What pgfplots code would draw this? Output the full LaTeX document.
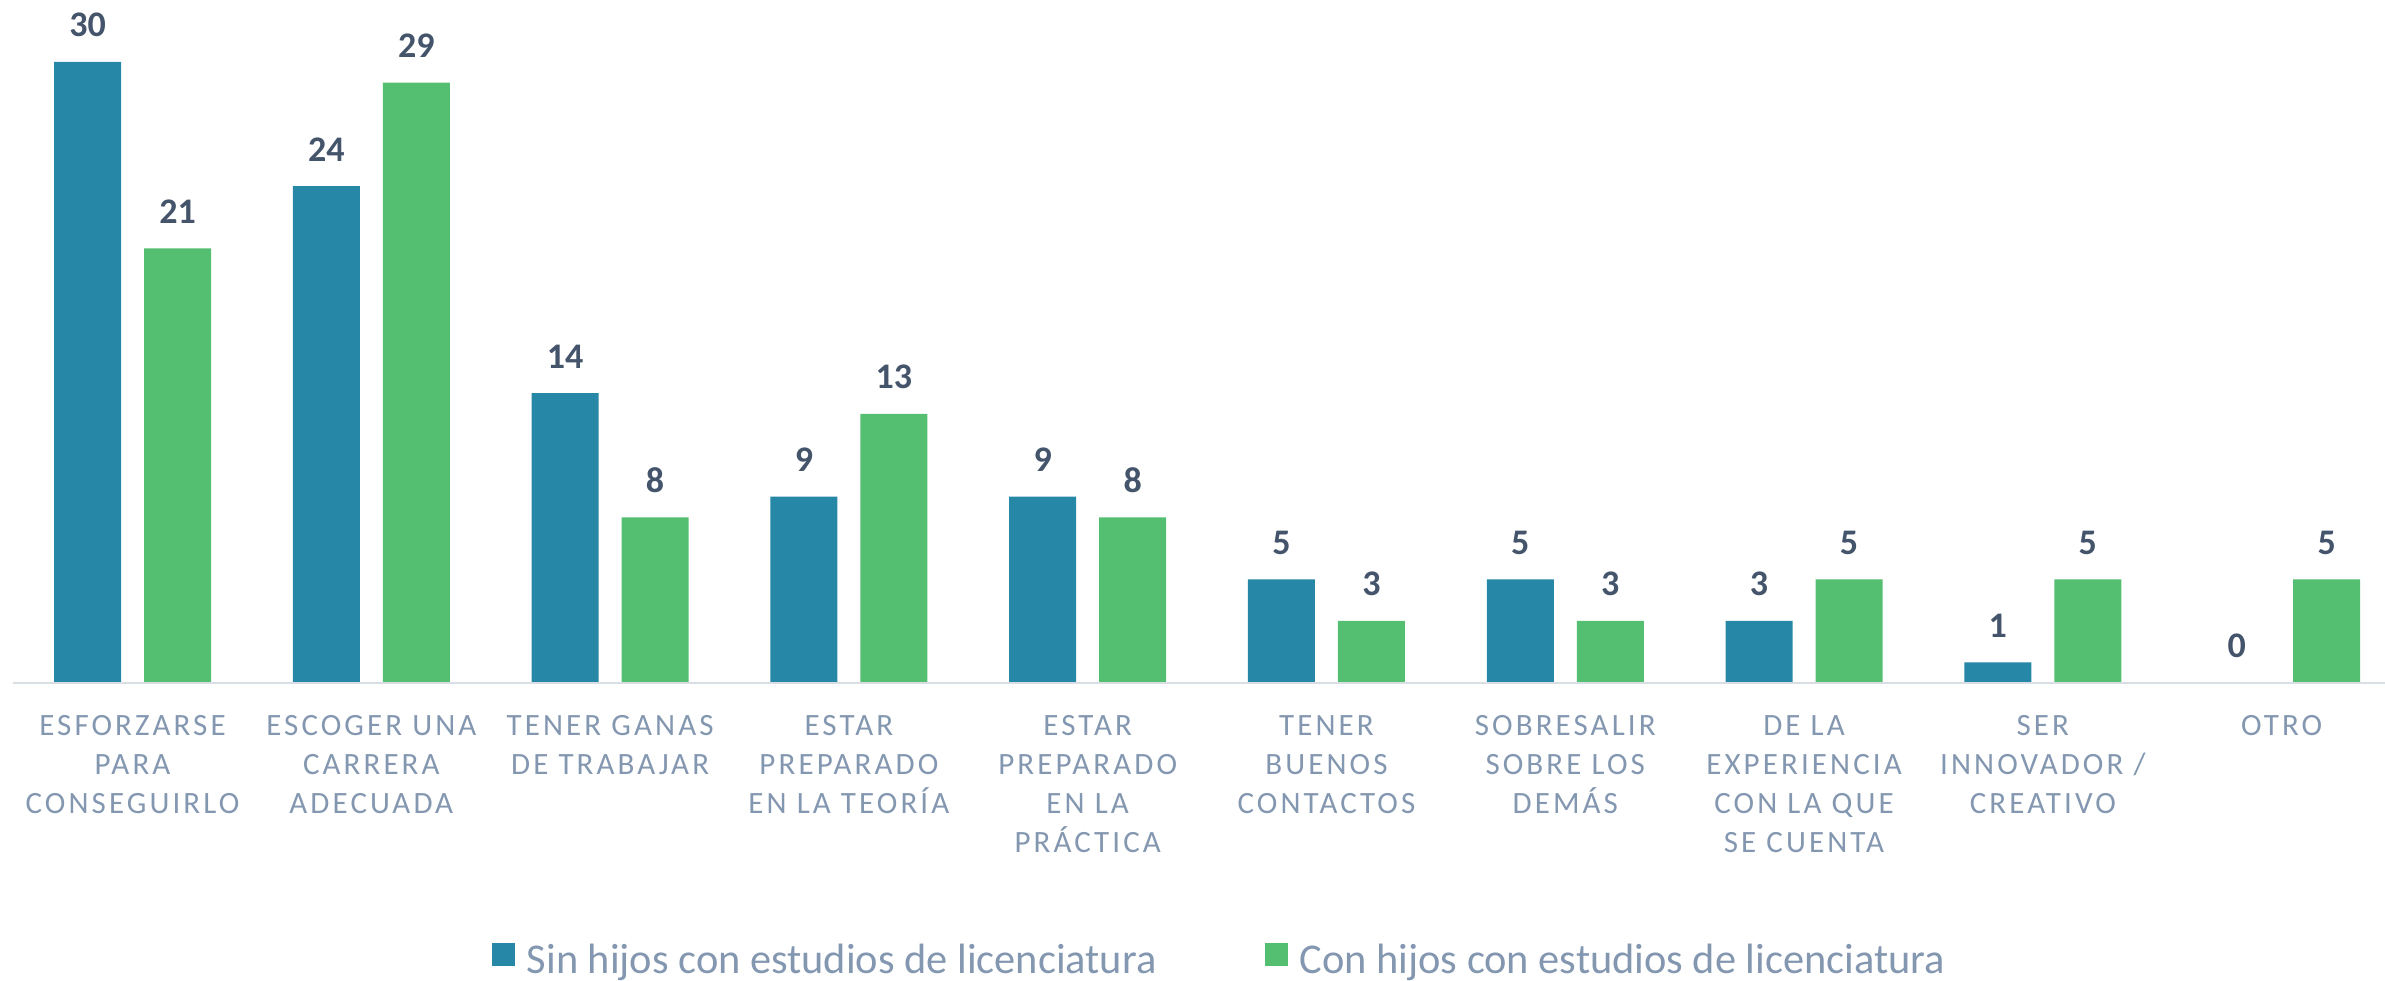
\documentclass[border=0pt]{standalone}
\usepackage{fontspec}
\setmainfont{Carlito}
\newfontfamily\tickfont{Carlito}[LetterSpace=10]
\usepackage{pgfplots}
\pgfplotsset{compat=1.18}
\definecolor{blueS}{RGB}{38,135,166}
\definecolor{greenC}{RGB}{84,191,113}
\definecolor{labcol}{RGB}{132,151,176}
\definecolor{valcol}{RGB}{68,84,106}
\definecolor{basecol}{RGB}{217,221,228}
\begin{document}
\begin{tikzpicture}
\begin{axis}[
  at={(0,0)}, anchor=south west,
  scale only axis, width=596.25pt, height=155.25pt,
  xmin=-0.555, xmax=9.433, ymin=0, ymax=30,
  ybar=5.75pt, bar width=16.75pt,
  axis line style={draw=none},
  axis x line*=bottom, hide y axis,
  major tick length=0pt,
  xtick={0,...,9},
  xticklabels={{ESFORZARSE\\PARA\\CONSEGUIRLO},{ESCOGER UNA\\CARRERA\\ADECUADA},{TENER GANAS\\DE TRABAJAR},{ESTAR\\PREPARADO\\EN LA TEORÍA},{ESTAR\\PREPARADO\\EN LA\\PRÁCTICA},{TENER\\BUENOS\\CONTACTOS},{SOBRESALIR\\SOBRE LOS\\DEMÁS},{DE LA\\EXPERIENCIA\\CON LA QUE\\SE CUENTA},{SER\\INNOVADOR /\\CREATIVO},{OTRO}},
  xticklabel style={font=\tickfont\fontsize{7.75}{9.75}\selectfont, text=labcol, align=center, anchor=north, inner sep=0pt, yshift=-8pt},
  /pgf/number format/assume math mode=true,
  nodes near coords,
  every node near coord/.append style={font=\bfseries\fontsize{9}{10}\selectfont, text=valcol, anchor=south, inner sep=0pt, yshift=6pt},
  legend columns=2,
  legend style={draw=none, fill=none, at={(0.5109,-0.4485)}, anchor=center,
    font=\fontsize{10.6}{12}\selectfont, text=labcol, inner sep=0pt,
    nodes={inner sep=0pt},
    /tikz/every odd column/.append style={column sep=3pt},
    /tikz/every even column/.append style={column sep=27pt}},
  legend image code/.code={\fill[#1] (0pt,-1.0pt) rectangle (5.75pt,4.75pt);},
  clip=false,
]
\addplot[fill=blueS, draw=none] coordinates {
  (0,30) (1,24) (2,14) (3,9) (4,9) (5,5) (6,5) (7,3) (8,1) (9,0)};
\addlegendentry{Sin hijos con estudios de licenciatura}
\addplot[fill=greenC, draw=none] coordinates {
  (0,21) (1,29) (2,8) (3,13) (4,8) (5,3) (6,3) (7,5) (8,5) (9,5)};
\addlegendentry{Con hijos con estudios de licenciatura}
\draw[basecol, line width=0.5pt] (axis cs:-0.5,0) -- (axis cs:9.433,0);
\end{axis}
\pgfresetboundingbox
\path (0pt,-74.5pt) rectangle (596.25pt,170.75pt);
\end{tikzpicture}
\end{document}
